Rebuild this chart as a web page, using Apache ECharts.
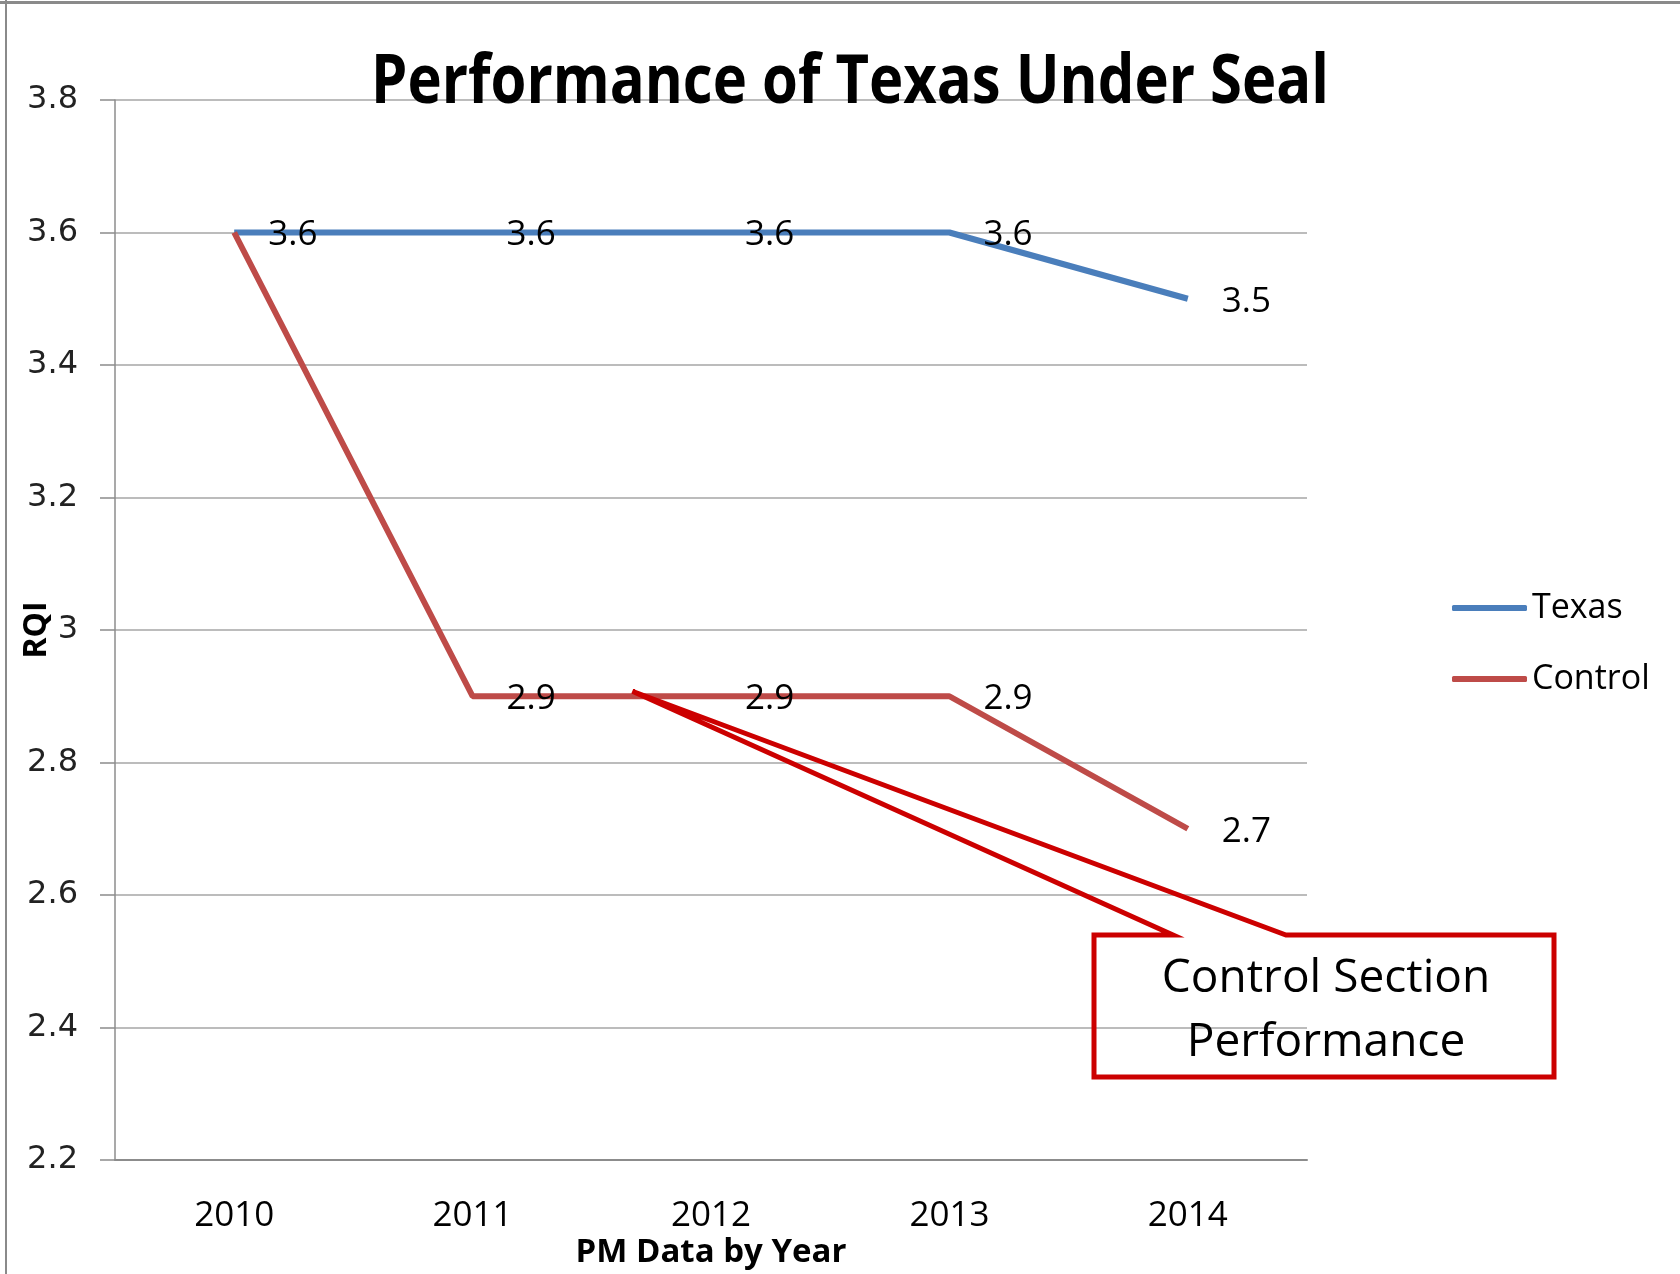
<!DOCTYPE html>
<html>
<head>
<meta charset="utf-8">
<style>
  html, body { margin: 0; padding: 0; background: #fff; }
  #chart { width: 1680px; height: 1274px; }
</style>
<script src="https://cdn.jsdelivr.net/npm/echarts@6/dist/echarts.min.js"></script>
</head>
<body>
<div id="chart"></div>
<script>
// ---- data ----
const years = ['2010', '2011', '2012', '2013', '2014'];
const texas = [3.6, 3.6, 3.6, 3.6, 3.5];
const control = [3.6, 2.9, 2.9, 2.9, 2.7];
const yMin = 2.2, yMax = 3.8, yStep = 0.2;
const titleText = 'Performance of Texas Under Seal';
const xName = 'PM Data by Year';
const yName = 'RQI';
const calloutText = 'Control Section\nPerformance';
const calloutTarget = [1.67, 2.9]; // category position / value the callout points at

const chart = echarts.init(document.getElementById('chart'), null, { renderer: 'canvas' });

const labelCommon = {
  show: true, position: 'right', distance: 34, offset: [0, 3],
  fontFamily: 'Open Sans', fontSize: 35, color: '#000'
};

const controlData = control.map((v, i) => i === 0 ? { value: v, label: { show: false } } : v);

chart.setOption({
  backgroundColor: '#fff',
  animation: false,
  legend: {
    orient: 'vertical',
    left: 1452, top: 591,
    itemWidth: 75, itemHeight: 6, itemGap: 37,
    icon: 'roundRect',
    padding: 0,
    textStyle: { fontFamily: 'Open Sans', fontSize: 34, color: '#000' },
    data: ['Texas', 'Control']
  },
  grid: { left: 115, right: 373, top: 100, bottom: 114, containLabel: false, outerBoundsMode: 'none' },
  xAxis: {
    type: 'category',
    data: years,
    boundaryGap: true,
    axisLine: { lineStyle: { color: '#8c8c8c', width: 2 } },
    axisTick: { length: 14, lineStyle: { color: '#8c8c8c', width: 1.5 } },
    axisLabel: { fontFamily: 'Open Sans', fontSize: 35, color: '#000', margin: 39 },
    name: xName, nameLocation: 'middle', nameGap: 76, nameMoveOverlap: false,
    nameTextStyle: { fontFamily: 'Open Sans', fontWeight: 'bold', fontSize: 33, color: '#000' }
  },
  yAxis: {
    type: 'value',
    min: yMin, max: yMax, interval: yStep,
    axisLine: { show: true, lineStyle: { color: '#8c8c8c', width: 1.5 } },
    axisTick: { show: true, length: 15, lineStyle: { color: '#8c8c8c', width: 1.5 } },
    splitLine: { lineStyle: { color: '#a6a6a6', width: 1.5 } },
    axisLabel: {
      fontFamily: 'DejaVu Sans', fontSize: 32, color: '#222', margin: 37, padding: [4, 0, 0, 0],
      formatter: v => String(+(+v).toFixed(1))
    },
    name: yName, nameLocation: 'middle', nameGap: 62, nameRotate: 90, nameMoveOverlap: false,
    nameTextStyle: { fontFamily: 'Open Sans', fontWeight: 'bold', fontSize: 32, color: '#000' }
  },
  series: [
    {
      name: 'Texas', type: 'line', data: texas,
      symbol: 'circle', symbolSize: 0.01, showSymbol: true, smooth: false,
      lineStyle: { color: '#4A7EBB', width: 6 },
      itemStyle: { color: '#4A7EBB' },
      label: labelCommon
    },
    {
      name: 'Control', type: 'line', data: controlData,
      symbol: 'circle', symbolSize: 0.01, showSymbol: true, smooth: false,
      lineStyle: { color: '#BE4B48', width: 6 },
      itemStyle: { color: '#BE4B48' },
      label: labelCommon
    }
  ]
});

// callout tip derived from the data scale
const p1 = chart.convertToPixel({ seriesIndex: 1 }, [Math.floor(calloutTarget[0]), calloutTarget[1]]);
const p2 = chart.convertToPixel({ seriesIndex: 1 }, [Math.ceil(calloutTarget[0]), calloutTarget[1]]);
const f = calloutTarget[0] - Math.floor(calloutTarget[0]);
const tip = [p1[0] + f * (p2[0] - p1[0]), p1[1] - 5];

const box = { x1: 1094, y1: 935, x2: 1554, y2: 1077, w1: 1173, w2: 1286 };

chart.setOption({
  graphic: [
    { type: 'rect', shape: { x: 0, y: 1, width: 1680, height: 3 }, style: { fill: '#8a8a8a' }, silent: true },
    { type: 'rect', shape: { x: 5, y: 0, width: 2, height: 1274 }, style: { fill: '#8a8a8a' }, silent: true },
    {
      type: 'text', x: 850, y: 84, scaleY: 1.18, z: 100, silent: true,
      style: {
        text: titleText, fontFamily: 'Open Sans', fontWeight: 'bold', fontSize: 58,
        fill: '#000', align: 'center', verticalAlign: 'middle'
      }
    },
    {
      type: 'polygon',
      shape: { points: [[box.x1, box.y1], [box.w1, box.y1], tip, [box.w2, box.y1], [box.x2, box.y1], [box.x2, box.y2], [box.x1, box.y2]] },
      style: { fill: 'none', stroke: '#CC0000', lineWidth: 5, lineJoin: 'miter' },
      z: 100, silent: true
    },
    {
      type: 'text', x: (box.x1 + box.x2) / 2 + 2, y: (box.y1 + box.y2) / 2 + 5,
      style: {
        text: calloutText, fontFamily: 'Open Sans', fontSize: 46, lineHeight: 64,
        fill: '#000', align: 'center', verticalAlign: 'middle'
      },
      z: 101, silent: true
    }
  ]
});
</script>
</body>
</html>
